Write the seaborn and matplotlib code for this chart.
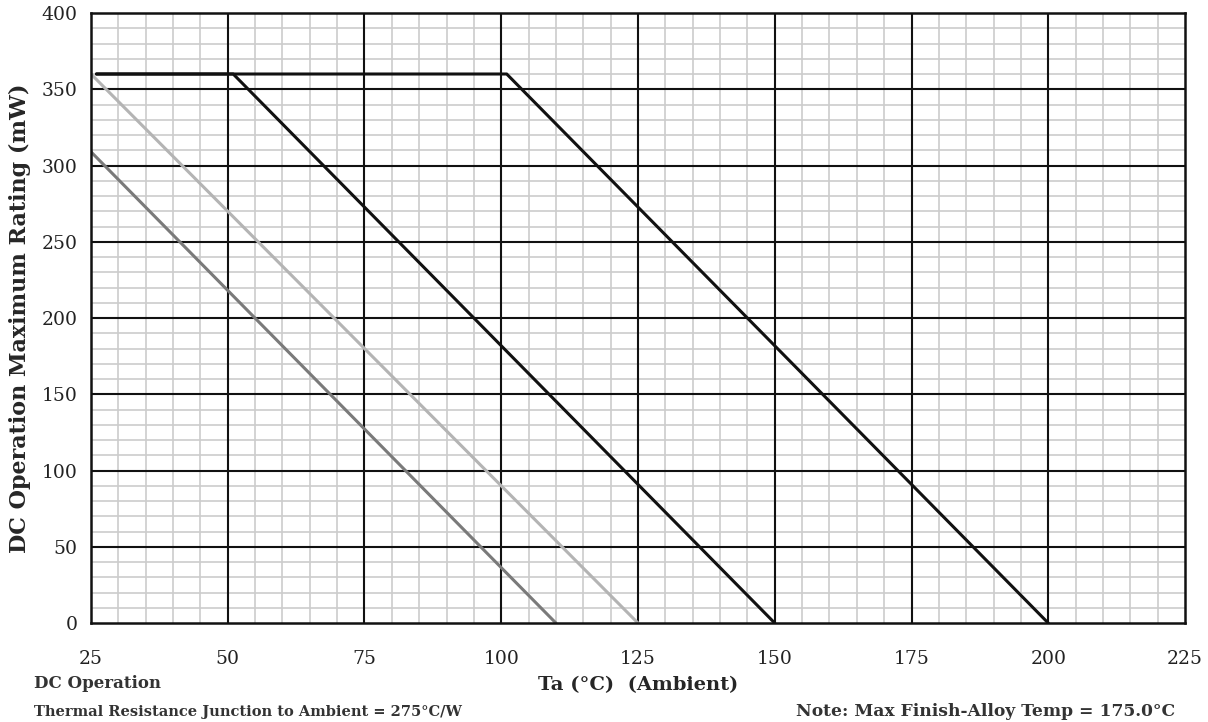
import matplotlib
matplotlib.use("Agg")
import matplotlib.pyplot as plt
from matplotlib.ticker import MultipleLocator, FixedLocator
import seaborn as sns
import pandas as pd

# Data
tj200_x = [26, 101, 200]
tj200_y = [360, 360, 0]
tj150_x = [26, 51, 150]
tj150_y = [360, 360, 0]
tj125_x = [25, 125]
tj125_y = [360, 0]
tj110_x = [25, 110]
tj110_y = [309, 0]

series = {
    "Tj=200": (tj200_x, tj200_y),
    "Tj=150": (tj150_x, tj150_y),
    "Tj=125": (tj125_x, tj125_y),
    "Tj=110": (tj110_x, tj110_y),
}
rows = []
for name, (xs, ys) in series.items():
    for x, y in zip(xs, ys):
        rows.append({"series": name, "Ta": x, "P": y})
df = pd.DataFrame(rows)

colors = {"Tj=200": "#111111", "Tj=150": "#111111", "Tj=125": "#b4b4b4", "Tj=110": "#7a7a7a"}

sns.set_style("white")
plt.rcParams["font.family"] = ["DejaVu Serif"]

fig = plt.figure(figsize=(12.08, 7.22), dpi=100)
ax = fig.add_axes([0.0753, 0.137, 0.9057, 0.845])

ax.set_xlim(25, 225)
ax.set_ylim(0, 400)
ax.xaxis.set_major_locator(MultipleLocator(25))
ax.yaxis.set_major_locator(MultipleLocator(50))
ax.xaxis.set_minor_locator(FixedLocator([v for v in range(25, 226, 5) if v % 25 != 0]))
ax.yaxis.set_minor_locator(FixedLocator([v for v in range(0, 401, 10) if v % 50 != 0]))
ax.grid(which="minor", color="#cccccc", linewidth=1.2)
ax.grid(which="major", visible=False)
ax.set_axisbelow(True)

# major grid drawn above the minor grid
for xv in ax.get_xticks():
    if 25 < xv < 225:
        ax.axvline(xv, color="#111111", linewidth=1.5, zorder=1)
for yv in ax.get_yticks():
    if 0 < yv < 400:
        ax.axhline(yv, color="#111111", linewidth=1.5, zorder=1)

sns.lineplot(data=df, x="Ta", y="P", hue="series", palette=colors, units="series",
             estimator=None, sort=False, linewidth=2.2, legend=False, ax=ax, zorder=3)

for s in ax.spines.values():
    s.set_color("#111111")
    s.set_linewidth(1.8)
    s.set_zorder(4)

ax.tick_params(axis="both", which="major", direction="out", length=5.5, width=1.5,
               color="#111111", labelsize=13.5, pad=4, labelcolor="#222222")
ax.tick_params(axis="both", which="minor", length=0)
ax.tick_params(axis="x", pad=14)

ax.set_xlabel("Ta (°C)  (Ambient)", fontsize=14, fontweight="bold", labelpad=6)
ax.set_ylabel("DC Operation Maximum Rating (mW)", fontsize=16, fontweight="bold")
ax.yaxis.set_label_coords(-0.055, 0.5)

fig.text(0.028, 0.047, "DC Operation", fontsize=12, fontweight="bold", color="#333333")
fig.text(0.028, 0.008, "Thermal Resistance Junction to Ambient = 275°C/W", fontsize=10.5,
         fontweight="bold", color="#333333")
fig.text(0.973, 0.008, "Note: Max Finish-Alloy Temp = 175.0°C", fontsize=12.3,
         fontweight="bold", color="#333333", ha="right")

fig.savefig("out.png", dpi=100)
